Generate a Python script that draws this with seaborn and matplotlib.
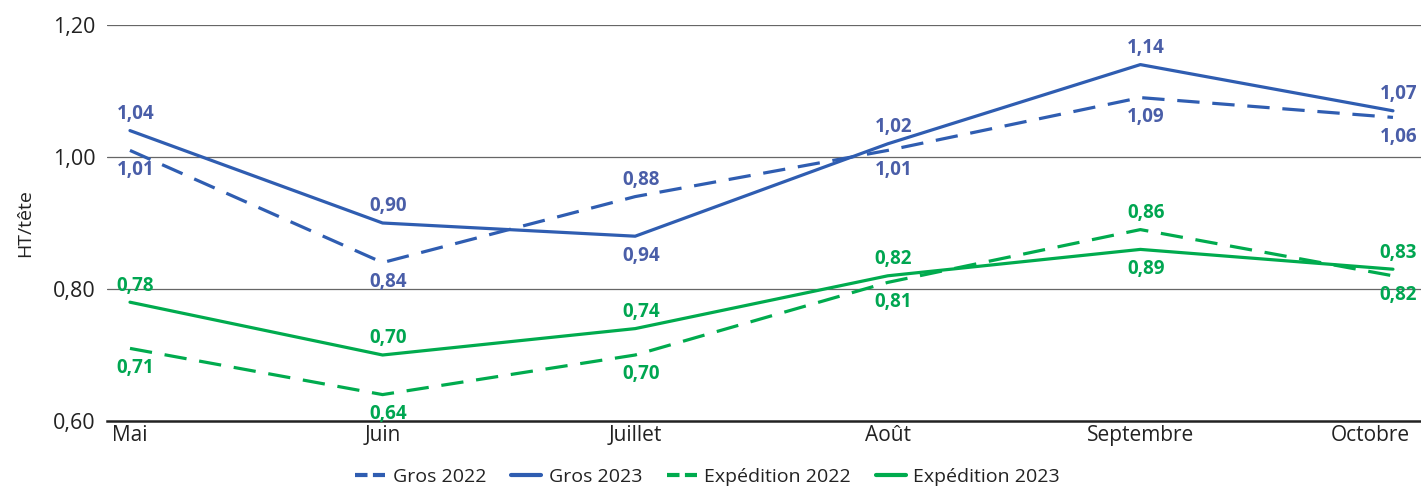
import pandas as pd
import matplotlib
matplotlib.use("Agg")
import matplotlib.pyplot as plt
from matplotlib.lines import Line2D
from matplotlib.transforms import ScaledTranslation
import seaborn as sns

# =========================
# DONNÉES
# =========================

mois = ["Mai", "Juin", "Juillet", "Août", "Septembre", "Octobre"]
gros_2022 = [1.01, 0.84, 0.94, 1.01, 1.09, 1.06]
gros_2023 = [1.04, 0.90, 0.88, 1.02, 1.14, 1.07]
exp_2022 = [0.71, 0.64, 0.70, 0.81, 0.89, 0.82]
exp_2023 = [0.78, 0.70, 0.74, 0.82, 0.86, 0.83]

series = {
    "Gros 2022": gros_2022,
    "Gros 2023": gros_2023,
    "Expédition 2022": exp_2022,
    "Expédition 2023": exp_2023,
}

bleu = "#2f5db1"
bleu_txt = "#4a5ea8"
vert = "#00ab4e"
vert_txt = "#00a651"

palette = {"Gros 2022": bleu, "Gros 2023": bleu,
           "Expédition 2022": vert, "Expédition 2023": vert}
tirets = {"Gros 2022": (7, 4), "Gros 2023": "",
          "Expédition 2022": (7, 4), "Expédition 2023": ""}

df = pd.DataFrame(
    [(i, m, s, v) for s, vals in series.items() for i, (m, v) in enumerate(zip(mois, vals))],
    columns=["pos", "mois", "serie", "valeur"],
)

# =========================
# GRAPHIQUE
# =========================

sns.set_theme(style="white")
plt.rcParams["font.family"] = ["Open Sans", "DejaVu Sans"]

fig = plt.figure(figsize=(14.21, 4.86), dpi=100)
ax = fig.add_axes([107 / 1421, 1 - 421 / 486, 1 - 107 / 1421, (421 - 25) / 486])

sns.lineplot(data=df, x="pos", y="valeur", hue="serie", style="serie",
             palette=palette, dashes=tirets, linewidth=2.3, ax=ax, legend=False)

ax.set_ylim(0.6, 1.2)
ax.set_xlim(-0.091, 5.111)
ax.set_yticks([0.6, 0.8, 1.0, 1.2])
ax.set_yticklabels([f"{v:.2f}".replace(".", ",") for v in [0.6, 0.8, 1.0, 1.2]],
                   fontsize=15.5, color="#222222")
ax.set_xticks(range(len(mois)))
ax.set_xticklabels(mois, fontsize=15, color="#222222")
ax.tick_params(axis="x", length=0, pad=3)
ax.tick_params(axis="y", length=0, pad=8)

# le dernier mois est calé à droite comme dans l'original
dernier = ax.get_xticklabels()[-1]
dernier.set_ha("right")
dernier.set_transform(dernier.get_transform() + ScaledTranslation(0.17, 0, fig.dpi_scale_trans))

for y in [0.8, 1.0, 1.2]:
    ax.axhline(y, color="#666666", linewidth=0.9, zorder=0)

for s in ["left", "right", "top"]:
    ax.spines[s].set_visible(False)
ax.spines["bottom"].set_color("#222222")
ax.spines["bottom"].set_linewidth(1.8)

ax.set_xlabel("")
ax.set_ylabel("HT/tête", fontsize=14, color="#222222", labelpad=14)

# Étiquettes : valeur 2023 au-dessus, valeur 2022 en dessous
def etiquettes(v22, v23, couleur):
    for i in range(len(mois)):
        haut = max(v22[i], v23[i])
        bas = min(v22[i], v23[i])
        ax.annotate(f"{v23[i]:.2f}".replace(".", ","), (i, haut), xytext=(4, 12),
                    textcoords="offset points", ha="center", va="center",
                    fontsize=13.5, fontweight="bold", color=couleur)
        ax.annotate(f"{v22[i]:.2f}".replace(".", ","), (i, bas), xytext=(4, -14),
                    textcoords="offset points", ha="center", va="center",
                    fontsize=13.5, fontweight="bold", color=couleur)

etiquettes(gros_2022, gros_2023, bleu_txt)
etiquettes(exp_2022, exp_2023, vert_txt)

# Légende avec poignées courtes et épaisses
handles = [
    Line2D([], [], color=bleu, linewidth=3, dashes=(3, 1.3)),
    Line2D([], [], color=bleu, linewidth=3),
    Line2D([], [], color=vert, linewidth=3, dashes=(3, 1.3)),
    Line2D([], [], color=vert, linewidth=3),
]
fig.legend(handles, list(series.keys()), loc="lower center", bbox_to_anchor=(0.498, -0.035),
           ncol=4, frameon=False, fontsize=14, handlelength=1.55,
           columnspacing=1.25, handletextpad=0.4, labelcolor="#222222")

fig.savefig("out.png", dpi=100)
